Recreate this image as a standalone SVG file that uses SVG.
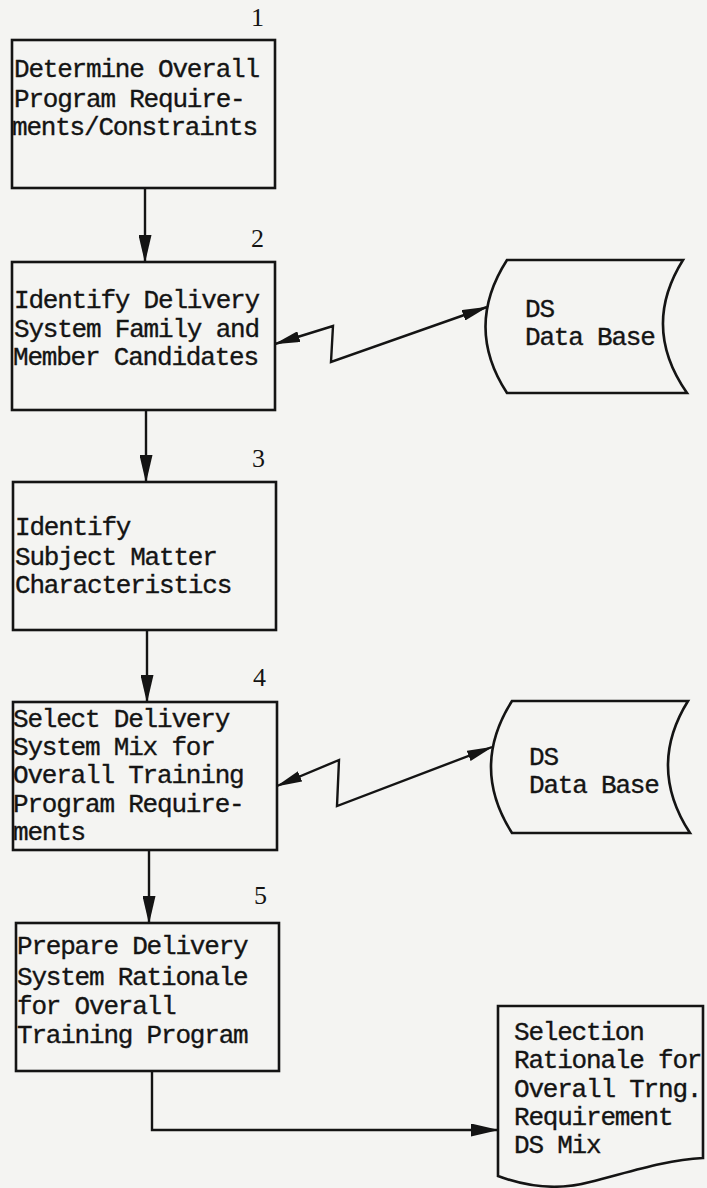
<svg xmlns="http://www.w3.org/2000/svg" width="707" height="1188" viewBox="0 0 707 1188">
<style>
.box{fill:none;stroke:#141414;stroke-width:2.6}
.ln{fill:none;stroke:#141414;stroke-width:2.4}
.t{font-family:"Liberation Mono","DejaVu Sans Mono",monospace;font-size:26px;letter-spacing:-1.2px;fill:#141414;stroke:#141414;stroke-width:0.35}
.n{font-family:"Liberation Serif","Times New Roman",serif;font-size:26px;fill:#141414}
</style>
<defs>
<marker id="ah" markerUnits="userSpaceOnUse" viewBox="0 0 28 13" refX="27" refY="6.5" markerWidth="28" markerHeight="13" orient="auto-start-reverse">
<path d="M0,0 L28,6.5 L0,13 Z" fill="#141414"/>
</marker>
<marker id="az" markerUnits="userSpaceOnUse" viewBox="0 0 26 11" refX="25" refY="5.5" markerWidth="26" markerHeight="11" orient="auto-start-reverse">
<path d="M0,0 L26,5.5 L0,11 Z" fill="#141414"/>
</marker>
</defs>
<rect x="0" y="0" width="707" height="1188" fill="#f4f4f2"/>
<g id="node1">
<text class="n" x="251" y="26">1</text>
<rect class="box" x="12" y="40" width="263" height="148"/>
<text class="t" x="14" y="77">Determine Overall</text>
<text class="t" x="14" y="107">Program Require-</text>
<text class="t" x="12" y="135">ments/Constraints</text>
</g>
<g id="node2">
<text class="n" x="251" y="247">2</text>
<rect class="box" x="12" y="262" width="263" height="148"/>
<text class="t" x="14" y="308">Identify Delivery</text>
<text class="t" x="14" y="337">System Family and</text>
<text class="t" x="13" y="365">Member Candidates</text>
</g>
<g id="db1">
<path class="box" d="M507,260 L683,260 Q641,327 687,393 L507,393 Q464,327 507,260 Z"/>
<text class="t" x="525" y="317">DS</text>
<text class="t" x="525" y="345">Data Base</text>
</g>
<g id="node3">
<text class="n" x="252" y="467">3</text>
<rect class="box" x="13" y="482" width="263" height="148"/>
<text class="t" x="15" y="535">Identify</text>
<text class="t" x="15" y="565">Subject Matter</text>
<text class="t" x="15" y="593">Characteristics</text>
</g>
<g id="node4">
<text class="n" x="253" y="686">4</text>
<rect class="box" x="13" y="702" width="264" height="148"/>
<text class="t" x="13" y="727">Select Delivery</text>
<text class="t" x="13" y="755">System Mix for</text>
<text class="t" x="13" y="783">Overall Training</text>
<text class="t" x="13" y="812">Program Require-</text>
<text class="t" x="13" y="840">ments</text>
</g>
<g id="db2">
<path class="box" d="M512,701 L688,701 Q647,767 690,833 L512,833 Q470,767 512,701 Z"/>
<text class="t" x="529" y="765">DS</text>
<text class="t" x="529" y="793">Data Base</text>
</g>
<g id="node5">
<text class="n" x="254" y="904">5</text>
<rect class="box" x="16" y="923" width="263" height="148"/>
<text class="t" x="17" y="954">Prepare Delivery</text>
<text class="t" x="17" y="985">System Rationale</text>
<text class="t" x="17" y="1014">for Overall</text>
<text class="t" x="17" y="1043">Training Program</text>
</g>
<g id="output">
<path class="box" d="M498,1006 L703,1006 L703,1158 C665,1160 630,1172 590,1182 C560,1190 530,1188 498,1176 Z"/>
<text class="t" x="514" y="1040">Selection</text>
<text class="t" x="514" y="1068">Rationale for</text>
<text class="t" x="514" y="1097">Overall Trng.</text>
<text class="t" x="514" y="1125">Requirement</text>
<text class="t" x="514" y="1153">DS Mix</text>
</g>
<g id="connectors">
<line class="ln" x1="145" y1="188" x2="145" y2="262" marker-end="url(#ah)"/>
<line class="ln" x1="146" y1="410" x2="146" y2="482" marker-end="url(#ah)"/>
<line class="ln" x1="147" y1="630" x2="147" y2="702" marker-end="url(#ah)"/>
<line class="ln" x1="149" y1="850" x2="149" y2="923" marker-end="url(#ah)"/>
<polyline class="ln" points="275,344 333,326 331,362 487,307" marker-start="url(#az)" marker-end="url(#az)"/>
<polyline class="ln" points="277,786 339,760 337,806 492,747" marker-start="url(#az)" marker-end="url(#az)"/>
<polyline class="ln" points="152,1071 152,1130 498,1130" marker-end="url(#ah)"/>
</g>
</svg>
